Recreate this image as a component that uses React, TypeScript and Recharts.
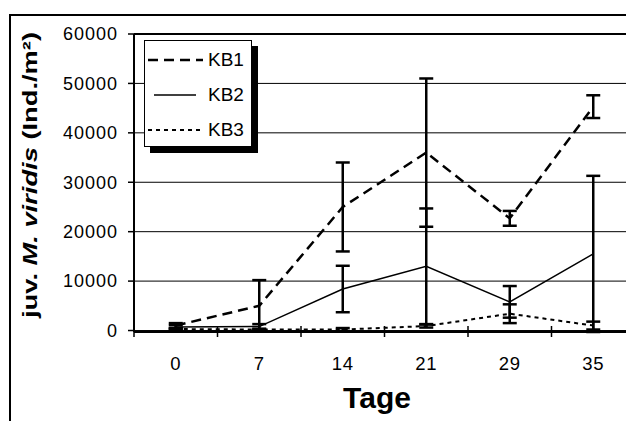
import {
  LineChart,
  Line,
  XAxis,
  YAxis,
  CartesianGrid,
  ErrorBar,
  ReferenceLine,
} from "recharts";

const days = ["0", "7", "14", "21", "29", "35"];
const kb1 = [1000, 5000, 25000, 36000, 22700, 45300];
const kb1Err = [500, 5200, 9000, 15000, 1500, 2300];
const kb2 = [700, 800, 8400, 13000, 5800, 15500];
const kb2Err = [400, 500, 4700, 11700, 3200, 15800];
const kb3 = [300, 200, 200, 900, 3400, 1000];
const kb3Err = [200, 150, 300, 300, 1900, 800];
const yTicks = [0, 10000, 20000, 30000, 40000, 50000, 60000];

const FONT = "Arial, 'Liberation Sans', sans-serif";

const series = [
  { key: "kb1", name: "KB1", dash: "10 6", width: 2.5, err: "kb1Err" },
  { key: "kb2", name: "KB2", dash: undefined, width: 1.5, err: "kb2Err" },
  { key: "kb3", name: "KB3", dash: "4 4", width: 2, err: "kb3Err" },
];

const data = days.map((d, i) => ({
  i,
  day: d,
  kb1: kb1[i],
  kb1Err: kb1Err[i],
  kb2: kb2[i],
  kb2Err: kb2Err[i],
  kb3: kb3[i],
  kb3Err: kb3Err[i],
}));

const PLOT_BOTTOM = 332;
const STEP = 501 / 6;

const XTick = (props: any) => {
  const { x, payload, index } = props;
  return (
    <g>
      <line x1={x - STEP / 2} x2={x - STEP / 2} y1={PLOT_BOTTOM - 6} y2={PLOT_BOTTOM + 5} stroke="#000" strokeWidth={1.5} />
      {index === days.length - 1 && (
        <line x1={x + STEP / 2} x2={x + STEP / 2} y1={PLOT_BOTTOM - 6} y2={PLOT_BOTTOM + 5} stroke="#000" strokeWidth={1.5} />
      )}
      <text x={x} y={PLOT_BOTTOM + 38} textAnchor="middle" fontFamily={FONT} fontSize={18.5} letterSpacing={0.8} fill="#000">
        {days[payload.value]}
      </text>
    </g>
  );
};

// legend drawn as an overlay so it doesn't shrink the plot area
const LegendBox = () => (
  <div
    style={{
      position: "absolute",
      left: 144,
      top: 40,
      width: 106,
      height: 105,
      border: "1.5px solid #000",
      background: "#fff",
      boxShadow: "6px 6px 0 #000",
      fontFamily: FONT,
      fontSize: 19,
    }}
  >
    {series.map((s, k) => (
      <div key={s.key} style={{ position: "absolute", left: 0, top: 6 + k * 35, height: 26, display: "flex", alignItems: "center" }}>
        <svg width={62} height={10}>
          <line
            x1={k === 1 ? 9 : 3}
            x2={k === 1 ? 51 : 58}
            y1={5}
            y2={5}
            stroke="#000"
            strokeWidth={s.width}
            strokeDasharray={s.dash}
          />
        </svg>
        <span style={{ marginLeft: 1 }}>{s.name}</span>
      </div>
    ))}
  </div>
);

export default function App() {
  return (
    <div style={{ position: "absolute", left: 0, top: 0, width: 626, height: 421, overflow: "hidden", background: "#fff" }}>
      <div style={{ position: "absolute", left: 9, top: 14, width: 700, height: 500, border: "2px solid #000" }} />
      <div style={{ position: "absolute", left: 0, top: 0 }}>
        <LineChart width={660} height={440} data={data} margin={{ top: 34, right: 25, left: 0, bottom: 0 }}>
          <CartesianGrid horizontal vertical={false} stroke="#000" strokeWidth={1} />
          <ReferenceLine y={60000} stroke="#000" strokeWidth={2} />
          <XAxis
            dataKey="i"
            type="number"
            domain={[-0.5, 5.5]}
            ticks={[0, 1, 2, 3, 4, 5]}
            tick={<XTick />}
            tickLine={false}
            height={108}
            stroke="#000"
            strokeWidth={2}
            label={{
              content: () => (
                <text x={377} y={408} textAnchor="middle" fontFamily={FONT} fontWeight="bold" fontSize={30} fill="#000">
                  Tage
                </text>
              ),
            }}
          />
          <YAxis
            domain={[0, 60000]}
            ticks={yTicks}
            width={134}
            stroke="#000"
            strokeWidth={2}
            tickSize={6}
            tickMargin={10}
            tick={{ fill: "#000", fontFamily: FONT, fontSize: 18, letterSpacing: 1 }}
            tickLine={{ stroke: "#000", strokeWidth: 1.5 }}
            label={{
              content: () => (
                <text
                  transform="translate(37,175) rotate(-90)"
                  textAnchor="middle"
                  fontFamily={FONT}
                  fontWeight="bold"
                  fontSize={20}
                  fill="#000"
                  textLength={286}
                  lengthAdjust="spacingAndGlyphs"
                >
                  juv. <tspan fontStyle="italic">M. viridis</tspan> (Ind./m²)
                </text>
              ),
            }}
          />
          {series.map((s) => (
            <Line
              key={s.key}
              type="linear"
              dataKey={s.key}
              name={s.name}
              stroke="#000"
              strokeWidth={s.width}
              strokeDasharray={s.dash}
              dot={false}
              isAnimationActive={false}
            >
              <ErrorBar dataKey={s.err} direction="y" width={7} stroke="#000" strokeWidth={2.5} isAnimationActive={false} />
            </Line>
          ))}
        </LineChart>
      </div>
      <LegendBox />
    </div>
  );
}
